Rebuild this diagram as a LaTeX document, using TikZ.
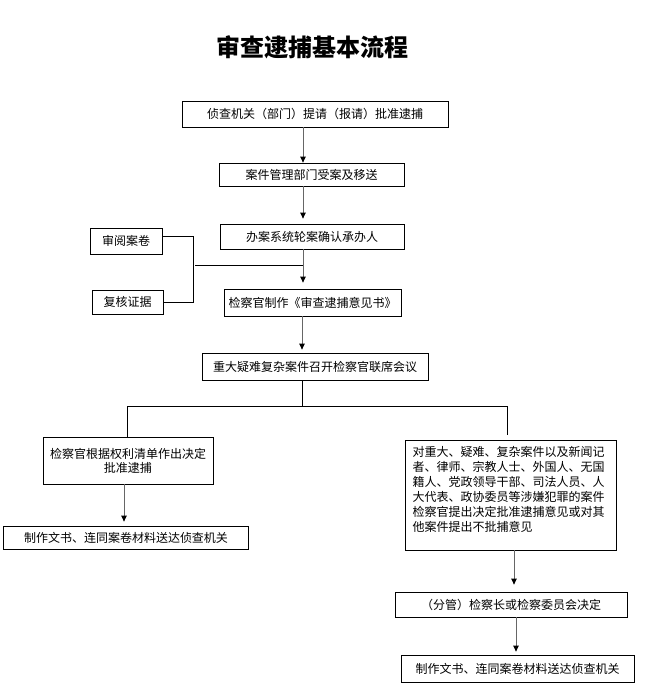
\documentclass[tikz,border=0pt]{standalone}
\usepackage{fontspec}
\setmainfont{Noto Sans CJK SC}
\usetikzlibrary{arrows.meta}
\begin{document}
\begin{tikzpicture}[x=1pt,y=-1pt,
  box/.style={draw, line width=0.8pt, inner sep=0pt, font=\fontsize{12}{14}\selectfont},
  ln/.style={line width=0.8pt},
  arr/.style={draw=black!60, line width=0.9pt, -{Triangle[length=6pt,width=5.5pt,black]}}]
\useasboundingbox (0,0) rectangle (652,689);
\node[font=\fontsize{24}{24}\selectfont\bfseries] (t) at (312,47) {审查逮捕基本流程};
\node[box, minimum width=266pt, minimum height=26pt] (b1) at (315,114) {侦查机关（部门）提请（报请）批准逮捕};
\node[box, minimum width=185pt, minimum height=23pt] (b2) at (311.5,174.5) {案件管理部门受案及移送};
\node[box, minimum width=184pt, minimum height=25pt] (b3) at (312,236.5) {办案系统轮案确认承办人};
\node[box, minimum width=177pt, minimum height=27pt] (b4) at (312.5,302.5) {检察官制作《审查逮捕意见书》};
\node[box, minimum width=72pt, minimum height=26pt] (r1) at (126,241) {审阅案卷};
\node[box, minimum width=71pt, minimum height=24pt] (r2) at (127.5,302) {复核证据};
\node[box, minimum width=226pt, minimum height=27pt] (b5) at (315,366.5) {重大疑难复杂案件召开检察官联席会议};
\node[box, minimum width=170pt, minimum height=47pt, align=center] (L1) at (128,460.5) {检察官根据权利清单作出决定\\批准逮捕};
\node[box, minimum width=245pt, minimum height=23pt] (L2) at (126,537.5) {制作文书、连同案卷材料送达侦查机关};
\node[box, minimum width=211pt, minimum height=110pt] (R1) at (510.5,495) {};
\node[anchor=north west, inner sep=0pt, text width=200pt, align=left, font=\fontsize{12}{15}\selectfont] (R1t) at (412.5,446.5) {对重大、疑难、复杂案件以及新闻记\\者、律师、宗教人士、外国人、无国\\籍人、党政领导干部、司法人员、人\\大代表、政协委员等涉嫌犯罪的案件\\检察官提出决定批准逮捕意见或对其\\他案件提出不批捕意见};
\node[box, minimum width=232pt, minimum height=25pt] (R2) at (511,604.5) {（分管）检察长或检察委员会决定};
\node[box, minimum width=233pt, minimum height=27pt] (R3) at (517.5,668.5) {制作文书、连同案卷材料送达侦查机关};
% columns and junctions
\coordinate (c1) at (303,0);
\coordinate (j) at (303,265);
\coordinate (jl) at (195,265);
\coordinate (sp) at (302,406);
\coordinate (hl) at (127,406);
\coordinate (hr) at (507,406);
\coordinate (cl) at (124,0);
\coordinate (cr1) at (514,0);
\coordinate (cr2) at (516,0);
% main column arrows
\draw[arr] (b1.south -| c1) -- (b2.north -| c1);
\draw[arr, shorten >=5pt] (b2.south -| c1) -- (b3.north -| c1);
\draw[arr, shorten >=6pt] (b3.south -| c1) -- (b4.north -| c1);
\draw[arr, shorten >=3pt] (b4.south -| sp) -- (b5.north -| sp);
% bracket from side boxes
\draw[ln] ([yshift=5pt]r1.east) -- ++(31,0) |- (r2.east);
\draw[ln] (jl) -- (j);
% split
\draw[ln] (b5.south -| sp) -- (sp);
\draw[ln] (hl) -- (hr);
\draw[ln] (hl) -- (hl |- L1.north);
\draw[ln] (hr) -- ([yshift=5pt]R1.north -| hr);
% left branch
\draw[arr, shorten >=4pt] (L1.south -| cl) -- (L2.north -| cl);
% right branch
\draw[arr, shorten >=7pt] (R1.south -| cr1) -- (R2.north -| cr1);
\draw[arr, shorten >=3pt] (R2.south -| cr2) -- (R3.north -| cr2);
\end{tikzpicture}
\end{document}
